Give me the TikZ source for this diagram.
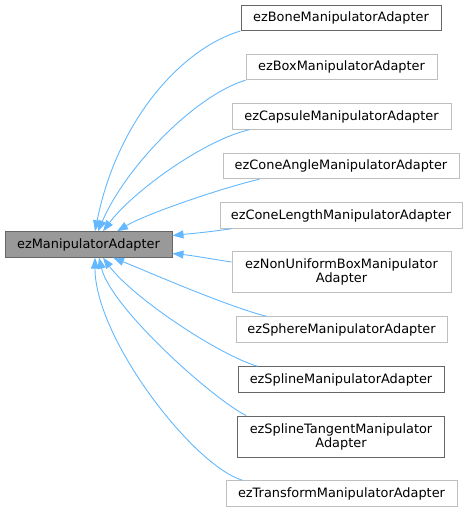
\documentclass[tikz,border=0pt]{standalone}
\usepackage{fontspec}
\setmainfont{DejaVu Sans}
\usetikzlibrary{arrows.meta}

\definecolor{edgeblue}{HTML}{63B8FF}
\definecolor{basefill}{HTML}{999999}
\definecolor{darkframe}{HTML}{666666}
\definecolor{lightframe}{HTML}{BFBFBF}

\tikzset{
	cls/.style={draw, line width=0.9pt, inner sep=0pt, minimum height=25.5pt,
		align=center, font=\fontsize{12.9}{14}\selectfont},
	clsdark/.style={cls, draw=darkframe},
	clslight/.style={cls, draw=lightframe},
	inherit/.style={draw=edgeblue, line width=0.9pt,
		-{Triangle[length=11pt,width=8pt]}}
}

\begin{document}
\begin{tikzpicture}[x=1pt,y=-1pt]
	\useasboundingbox (0,0) rectangle (468,512);

	% base class
	\node[clsdark, fill=basefill, minimum width=167pt] (main) at (88.5,244.5) {ezManipulatorAdapter};

	% derived classes
	\node[clsdark, minimum width=200pt] (bone) at (341,17.75) {ezBoneManipulatorAdapter};
	\node[clslight, minimum width=191pt] (box) at (341.5,67) {ezBoxManipulatorAdapter};
	\node[clslight, minimum width=219pt] (capsule) at (341.5,116.5) {ezCapsuleManipulatorAdapter};
	\node[clslight, minimum width=236pt] (coneangle) at (341,166) {ezConeAngleManipulatorAdapter};
	\node[clslight, minimum width=242pt] (conelength) at (341,215.5) {ezConeLengthManipulatorAdapter};
	\node[clslight, minimum width=219pt, minimum height=41pt] (nonuniform) at (341.5,272) {ezNonUniformBoxManipulator\\Adapter};
	\node[clslight, minimum width=211pt] (sphere) at (341.5,329.5) {ezSphereManipulatorAdapter};
	\node[clsdark, minimum width=206pt] (spline) at (341,379.5) {ezSplineManipulatorAdapter};
	\node[clsdark, minimum width=207pt, minimum height=41pt] (splinetangent) at (341,436.5) {ezSplineTangentManipulator\\Adapter};
	\node[clslight, minimum width=231pt] (transform) at (341.5,493.5) {ezTransformManipulatorAdapter};

	% inheritance edges, upper side
	\draw[inherit] (bone.south west) .. controls +(-60,18) and +(22,-110) .. ([xshift=6.5pt]main.north);
	\draw[inherit] (box.south west) .. controls +(-50,15) and +(28,-65) .. ([xshift=9.5pt]main.north);
	\draw[inherit] ([xshift=18pt]capsule.south west) .. controls +(-45,10) and +(30,-40) .. ([xshift=14.5pt]main.north);
	\draw[inherit] ([xshift=37pt]coneangle.south west) .. controls +(-35,8) and +(30,-18) .. ([xshift=28.5pt]main.north);

	% inheritance edges, right side
	\draw[inherit] ([xshift=12pt]conelength.south west) .. controls +(-20,3) and +(20,-2) .. ([yshift=9pt]main.east);
	\draw[inherit] ([yshift=10pt]nonuniform.west) .. controls +(-20,-3) and +(20,2) .. ([yshift=-9pt]main.east);

	% inheritance edges, lower side
	\draw[inherit] ([xshift=31pt]sphere.north west) .. controls +(-40,-10) and +(30,12) .. ([xshift=24.5pt]main.south);
	\draw[inherit] ([xshift=20pt]spline.north west) .. controls +(-40,-12) and +(30,40) .. ([xshift=14.5pt]main.south);
	\draw[inherit] ([xshift=9pt]splinetangent.north west) .. controls +(-35,-18) and +(12,50) .. ([xshift=10.5pt]main.south);
	\draw[inherit] ([xshift=17pt]transform.north west) .. controls +(-50,-15) and +(0,80) .. ([xshift=6.5pt]main.south);

\end{tikzpicture}
\end{document}
